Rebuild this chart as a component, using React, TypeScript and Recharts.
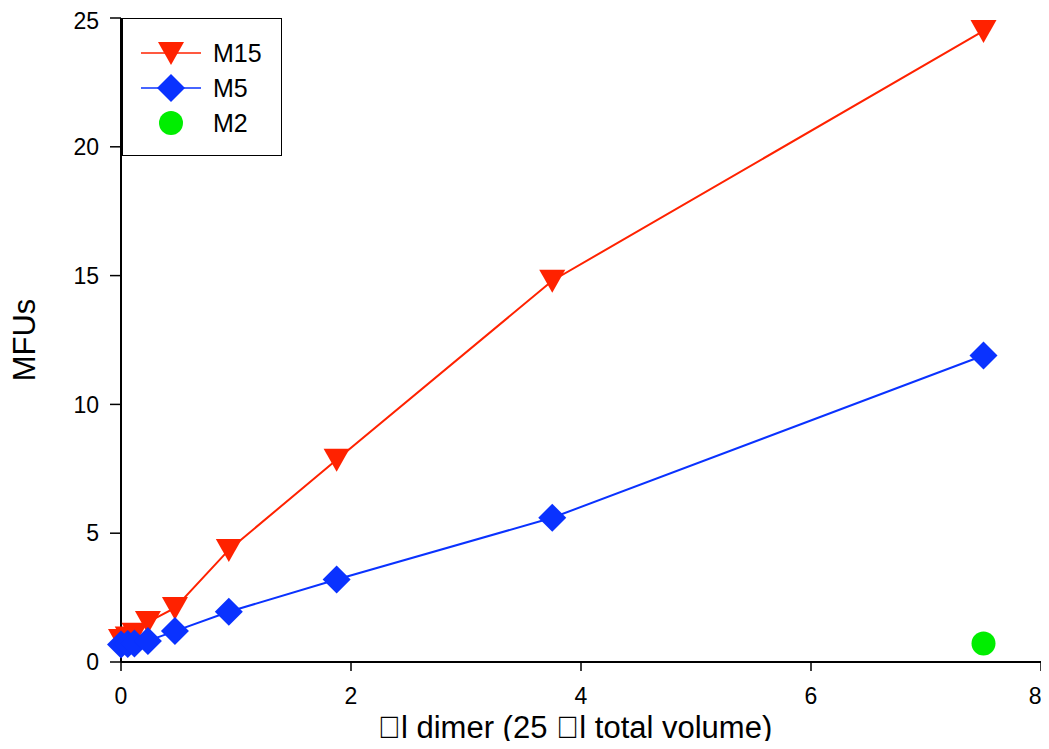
import React from "react";
import { ScatterChart, Scatter, XAxis, YAxis } from "recharts";

// µl of dimer added (25 µl total volume)
const doseX = [0, 0.0586, 0.117, 0.234, 0.469, 0.9375, 1.875, 3.75, 7.5];
const m15Values = [0.85, 0.95, 1.1, 1.55, 2.1, 4.35, 7.85, 14.8, 24.5];
const m5Values = [0.68, 0.7, 0.72, 0.82, 1.2, 1.95, 3.2, 5.6, 11.9];
const m2X = [7.5];
const m2Values = [0.72];

const xTicks = [0, 2, 4, 6, 8];
const yTicks = [0, 5, 10, 15, 20, 25];

const RED = "#ff2200";
const BLUE = "#0a32ff";
const GREEN = "#00ee00";
const FONT = "'Liberation Sans', Arial, sans-serif";

const toPoints = (xs: number[], ys: number[]) =>
  xs.map((x, i) => ({ x, y: ys[i] }));

const m15 = toPoints(doseX, m15Values);
const m5 = toPoints(doseX, m5Values);
const m2 = toPoints(m2X, m2Values);

function TriangleDown({ cx, cy }: any) {
  if (cx == null || cy == null) return null;
  return (
    <polygon
      points={`${cx - 13},${cy - 11} ${cx + 13},${cy - 11} ${cx},${cy + 12}`}
      fill={RED}
    />
  );
}

function Diamond({ cx, cy }: any) {
  if (cx == null || cy == null) return null;
  return (
    <polygon
      points={`${cx},${cy - 14} ${cx + 14},${cy} ${cx},${cy + 14} ${cx - 14},${cy}`}
      fill={BLUE}
    />
  );
}

function Dot({ cx, cy }: any) {
  if (cx == null || cy == null) return null;
  return <circle cx={cx} cy={cy} r={12} fill={GREEN} />;
}

const legendItems = [
  { name: "M15", color: RED, shape: TriangleDown, line: true },
  { name: "M5", color: BLUE, shape: Diamond, line: true },
  { name: "M2", color: GREEN, shape: Dot, line: false },
];

function LegendBox() {
  return (
    <div
      style={{
        position: "absolute",
        left: 114,
        top: 10,
        width: 158,
        height: 136,
        border: "1.5px solid #000",
        background: "#fff",
      }}
    >
      <svg width={158} height={136}>
        {legendItems.map((item, i) => {
          const cy = 34 + i * 35;
          const Shape = item.shape;
          return (
            <g key={item.name}>
              {item.line && (
                <line x1={18} x2={78} y1={cy} y2={cy} stroke={item.color} strokeWidth={1.5} />
              )}
              <Shape cx={48} cy={cy} />
              <text x={90} y={cy + 9} fontSize={25} fontFamily={FONT} fill="#000">
                {item.name}
              </text>
            </g>
          );
        })}
      </svg>
    </div>
  );
}

export default function App() {
  const tickStyle = { fontSize: 23, fontFamily: FONT, fill: "#000" };
  return (
    <div style={{ position: "relative", width: 1033, height: 733 }}>
      <style>{"svg.recharts-surface{overflow:visible}"}</style>
      <ScatterChart
        width={1033}
        height={733}
        margin={{ top: 10, right: 0, bottom: 0, left: 0 }}
      >
        <XAxis
          type="number"
          dataKey="x"
          domain={[0, 8]}
          ticks={xTicks}
          height={79}
          tick={tickStyle}
          tickSize={9}
          tickMargin={17}
          axisLine={{ stroke: "#000", strokeWidth: 2 }}
          tickLine={{ stroke: "#000", strokeWidth: 1.5 }}
          label={{
            content: ({ viewBox }: any) => (
              <text
                x={viewBox.x + viewBox.width / 2 - 6}
                y={viewBox.y + 76}
                textAnchor="middle"
                fontSize={31}
                fontFamily={FONT}
                fill="#000"
              >
                {"\uF06Dl dimer (25 \uF06Dl total volume)"}
              </text>
            ),
          }}
        />
        <YAxis
          type="number"
          dataKey="y"
          domain={[0, 25]}
          ticks={yTicks}
          width={113}
          tick={tickStyle}
          tickSize={11}
          tickMargin={11}
          axisLine={{ stroke: "#000", strokeWidth: 2 }}
          tickLine={{ stroke: "#000", strokeWidth: 1.5 }}
          label={{
            content: ({ viewBox }: any) => {
              const x = viewBox.x + 27;
              const y = viewBox.y + viewBox.height / 2;
              return (
                <text
                  x={x}
                  y={y}
                  transform={`rotate(-90, ${x}, ${y})`}
                  textAnchor="middle"
                  fontSize={31}
                  fontFamily={FONT}
                  fill="#000"
                >
                  MFUs
                </text>
              );
            },
          }}
        />
        <Scatter
          name="M15"
          data={m15}
          line={{ stroke: RED, strokeWidth: 2 }}
          shape={<TriangleDown />}
          isAnimationActive={false}
        />
        <Scatter
          name="M5"
          data={m5}
          line={{ stroke: BLUE, strokeWidth: 2 }}
          shape={<Diamond />}
          isAnimationActive={false}
        />
        <Scatter name="M2" data={m2} shape={<Dot />} isAnimationActive={false} />
      </ScatterChart>
      <LegendBox />
    </div>
  );
}
